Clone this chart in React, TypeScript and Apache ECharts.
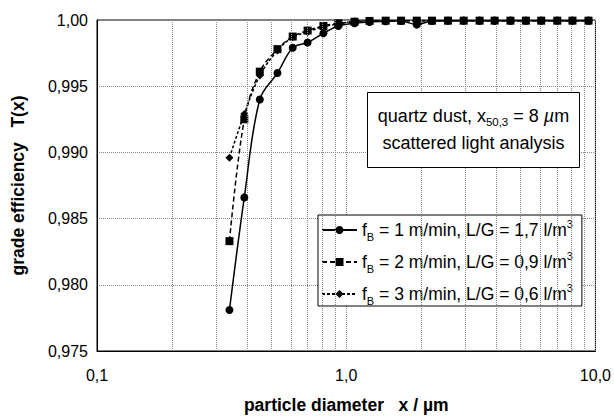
import React, { useEffect, useRef } from 'react';
import * as echarts from 'echarts';

const particleSizes = [0.34, 0.39, 0.45, 0.53, 0.61, 0.70, 0.81, 0.93, 1.08, 1.24, 1.44, 1.66, 1.92, 2.21, 2.56, 2.96, 3.43, 3.94, 4.56, 5.26, 6.06, 7.03, 8.09, 9.38];
const efficiencyF1 = [0.9781, 0.9866, 0.9940, 0.9960, 0.9979, 0.9983, 0.9990, 0.99955, 0.99975, 0.99985, 0.9999, 0.99992, 0.99965, 0.99993, 0.99995, 0.99995, 0.99995, 0.99995, 0.99995, 0.99995, 0.99995, 0.99995, 0.99995, 0.99995];
const efficiencyF2 = [0.9833, 0.9925, 0.9961, 0.9978, 0.99875, 0.9992, 0.99955, 0.99975, 0.99987, 0.99993, 0.99995, 0.99995, 0.99995, 0.99995, 0.99995, 0.99995, 0.99995, 0.99995, 0.99995, 0.99995, 0.99995, 0.99995, 0.99995, 0.99995];
const efficiencyF3 = [0.9896, 0.9929, 0.9958, 0.9977, 0.9987, 0.9991, 0.9995, 0.9997, 0.9999, 0.99993, 0.99995, 0.99995, 0.99995, 0.99995, 0.99995, 0.99995, 0.99995, 0.99995, 0.99995, 0.99995, 0.99995, 0.99995, 0.99995, 0.99995];
const minorGridX = [0.2, 0.3, 0.4, 0.5, 0.6, 0.7, 0.8, 0.9, 2, 3, 4, 5, 6, 7, 8, 9];
const seriesNames = ['f1', 'f2', 'f3'];
const legendTexts: Record<string, string> = {
  f1: '{t|f}{sub|B}{t| = 1 m/min, L/G = 1,7 l/m}{sup|3}',
  f2: '{t|f}{sub|B}{t| = 2 m/min, L/G = 0,9 l/m}{sup|3}',
  f3: '{t|f}{sub|B}{t| = 3 m/min, L/G = 0,6 l/m}{sup|3}',
};

const FONT = '"Liberation Sans", Arial, Helvetica, sans-serif';

export default function App() {
  const ref = useRef<HTMLDivElement>(null);
  useEffect(() => {
    if (!ref.current) return;
    const chart = echarts.init(ref.current, undefined, { renderer: 'svg' });
    const mk = (ys: number[]) => particleSizes.map((x, i) => [x, ys[i]]);
    const gridLine = { type: 'dotted' as const, color: '#888', width: 1 };
    chart.setOption({
      animation: false,
      backgroundColor: '#fff',
      textStyle: { fontFamily: FONT },
      grid: { left: 97, right: 17, top: 20, bottom: 64, show: true, borderColor: '#000', borderWidth: 1, backgroundColor: 'transparent' },
      xAxis: {
        type: 'log', logBase: 10, min: 0.1, max: 10,
        name: 'particle diameter   x / µm', nameLocation: 'middle', nameGap: 45,
        nameTextStyle: { fontFamily: FONT, fontSize: 17.5, fontWeight: 'bold', color: '#000' },
        axisLine: { lineStyle: { color: '#000', width: 1 } },
        axisTick: { show: false },
        axisLabel: {
          fontFamily: FONT, fontSize: 16, color: '#000', margin: 16,
          formatter: (v: number) => (v < 0.5 ? '0,1' : v < 5 ? '1,0' : '10,0'),
        },
        splitLine: { show: true, lineStyle: gridLine },
      },
      yAxis: {
        type: 'value', min: 0.975, max: 1.0, interval: 0.005,
        name: 'grade efficiency   T(x)', nameLocation: 'middle', nameGap: 70,
        nameTextStyle: { fontFamily: FONT, fontSize: 17.5, fontWeight: 'bold', color: '#000' },
        axisLine: { show: true, lineStyle: { color: '#000', width: 1 } },
        axisTick: { show: false },
        axisLabel: {
          fontFamily: FONT, fontSize: 16, color: '#000', margin: 9,
          formatter: (v: number) => (v > 0.9999 ? '1,00' : v.toFixed(3).replace('.', ',')),
        },
        splitLine: { show: true, lineStyle: gridLine },
      },
      legend: {
        data: seriesNames,
        orient: 'vertical', left: 318, top: 215,
        backgroundColor: '#fff', borderColor: '#000', borderWidth: 1,
        padding: [3, 9, 0, 3], itemGap: 8, itemWidth: 35, itemHeight: 10,
        selectedMode: false,
        formatter: (n: string) => legendTexts[n],
        textStyle: {
          fontFamily: FONT, color: '#000',
          rich: {
            t: { fontFamily: FONT, fontSize: 17.5, lineHeight: 24, color: '#000' },
            sub: { fontFamily: FONT, fontSize: 11, lineHeight: 3, verticalAlign: 'bottom', color: '#000' },
            sup: { fontFamily: FONT, fontSize: 11, lineHeight: 8, verticalAlign: 'top', color: '#000' },
          },
        },
      },
      series: [
        {
          name: 'grid', type: 'line', data: [], silent: true, symbol: 'none',
          markLine: { silent: true, symbol: ['none', 'none'], label: { show: false }, lineStyle: gridLine, data: minorGridX.map((v) => ({ xAxis: v })) },
        },
        { name: 'f1', type: 'line', data: mk(efficiencyF1), smooth: 0.35, symbol: 'circle', symbolSize: 8, lineStyle: { color: '#000', width: 1.5, type: 'solid' }, itemStyle: { color: '#000' }, z: 5 },
        { name: 'f2', type: 'line', data: mk(efficiencyF2), smooth: 0.35, symbol: 'rect', symbolSize: 8, lineStyle: { color: '#000', width: 1.5, type: [5, 3] }, itemStyle: { color: '#000' }, z: 4 },
        { name: 'f3', type: 'line', data: mk(efficiencyF3), smooth: 0.35, symbol: 'diamond', symbolSize: 8, lineStyle: { color: '#000', width: 1.5, type: [3, 2] }, itemStyle: { color: '#000' }, z: 3 },
      ],
      graphic: [
        {
          type: 'group', left: 367, top: 92, z: 100,
          children: [
            { type: 'rect', shape: { x: 0, y: 0, width: 212, height: 75 }, style: { fill: '#fff', stroke: '#000', lineWidth: 1 }, z: 100 },
            {
              type: 'text', x: 106, y: 23, z: 101,
              style: {
                text: '{t|quartz dust, x}{sub|50,3}{t| = 8 }{mu|µ}{t|m}', align: 'center', verticalAlign: 'middle', fill: '#000',
                rich: {
                  t: { fontFamily: FONT, fontSize: 18, lineHeight: 24, fill: '#000' },
                  mu: { fontFamily: FONT, fontSize: 18, lineHeight: 24, fontStyle: 'italic', fill: '#000' },
                  sub: { fontFamily: FONT, fontSize: 11.5, lineHeight: 4, verticalAlign: 'bottom', fill: '#000' },
                },
              },
            },
            {
              type: 'text', x: 106, y: 50, z: 101,
              style: { text: 'scattered light analysis', align: 'center', verticalAlign: 'middle', fill: '#000', fontFamily: FONT, fontSize: 18 },
            },
          ],
        },
      ],
    });
    return () => chart.dispose();
  }, []);
  return <div ref={ref} style={{ width: 614, height: 419, position: 'absolute', left: 0, top: 0 }} />;
}
